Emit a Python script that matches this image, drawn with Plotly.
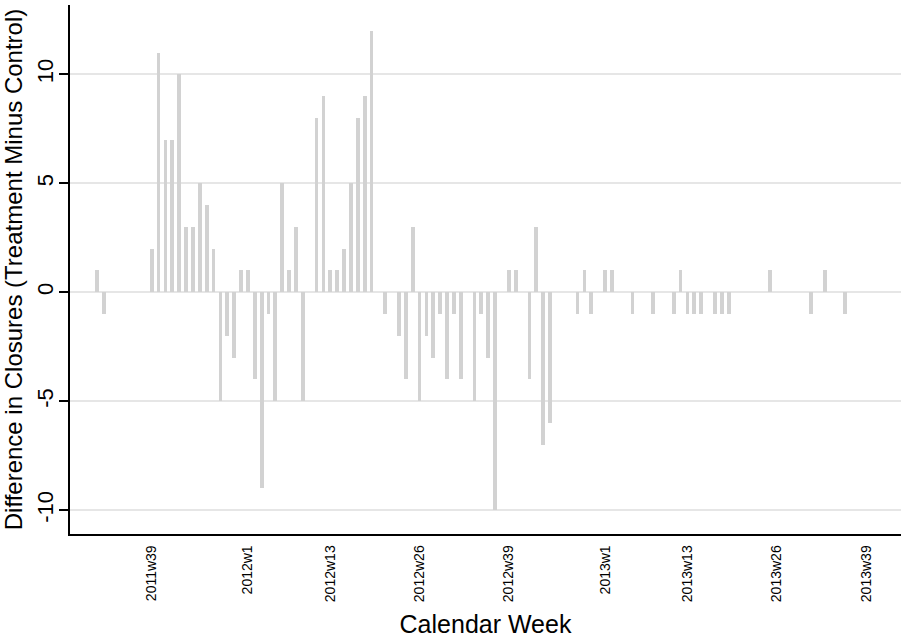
import plotly.graph_objects as go

# Calendar weeks (Stata-style weekly dates, 52 weeks per year) and values
weeks = [
    "2011w31", "2011w32",
    "2011w39", "2011w40", "2011w41", "2011w42", "2011w43", "2011w44", "2011w45",
    "2011w46", "2011w47", "2011w48", "2011w49", "2011w50", "2011w51", "2011w52",
    "2012w1", "2012w2", "2012w3", "2012w4", "2012w5", "2012w6", "2012w7", "2012w8",
    "2012w9", "2012w11", "2012w12", "2012w13", "2012w14", "2012w15", "2012w16",
    "2012w17", "2012w18", "2012w19", "2012w21", "2012w23", "2012w24", "2012w25",
    "2012w26", "2012w27", "2012w28", "2012w29", "2012w30", "2012w31", "2012w32",
    "2012w34", "2012w35", "2012w36", "2012w37", "2012w39", "2012w40", "2012w42",
    "2012w43", "2012w44", "2012w45", "2012w49", "2012w50", "2012w51",
    "2013w1", "2013w2", "2013w5", "2013w8", "2013w11", "2013w12", "2013w13",
    "2013w14", "2013w15", "2013w17", "2013w18", "2013w19", "2013w25", "2013w31",
    "2013w33", "2013w36",
]
diff_closures = [
    1, -1,
    2, 11, 7, 7, 10, 3, 3,
    5, 4, 2, -5, -2, -3, 1,
    1, -4, -9, -1, -5, 5, 1, 3,
    -5, 8, 9, 1, 1, 2, 5,
    8, 9, 12, -1, -2, -4, 3,
    -5, -2, -3, -1, -4, -1, -4,
    -5, -1, -3, -10, 1, 1, -4,
    3, -7, -6, -1, 1, -1,
    1, 1, -1, -1, -1, 1, -1,
    -1, -1, -1, -1, -1, 1, -1,
    1, -1,
]
tick_weeks = ["2011w39", "2012w1", "2012w13", "2012w26", "2012w39",
              "2013w1", "2013w13", "2013w26", "2013w39"]
y_ticks = [-10, -5, 0, 5, 10]
y_tick_text = ["-10", "-5", "0", "5", "10"]


def week_index(label):
    y, w = label.split("w")
    return int(y) * 52 + int(w) - 1


x_vals = [week_index(w) for w in weeks]
tick_vals = [week_index(w) for w in tick_weeks]
origin = week_index("2011w39")

FONT = "Liberation Sans, Arial, Helvetica, sans-serif"

fig = go.Figure(
    go.Bar(
        x=x_vals,
        y=diff_closures,
        width=0.55,
        marker=dict(color="#d2d2d2", line=dict(width=0)),
        hovertext=weeks,
    )
)

fig.update_layout(
    width=906,
    height=643,
    paper_bgcolor="white",
    plot_bgcolor="white",
    margin=dict(l=70, r=5, t=5, b=109),
    showlegend=False,
    font=dict(family=FONT, color="black"),
    bargap=0,
)

fig.update_xaxes(
    range=[origin - 11.9, origin + 109.1],
    tickmode="array",
    tickvals=tick_vals,
    ticktext=tick_weeks,
    tickangle=-90,
    tickfont=dict(size=14, family=FONT, color="black"),
    ticklabelstandoff=4,
    ticks="",
    showgrid=False,
    zeroline=False,
    showline=True,
    linecolor="black",
    linewidth=1.5,
    title=dict(text="Calendar Week", font=dict(size=25, family=FONT, color="black"), standoff=14),
    automargin=False,
)

fig.update_yaxes(
    range=[-11.09, 13.18],
    tickmode="array",
    tickvals=y_ticks,
    ticktext=y_tick_text,
    tickangle=-90,
    tickfont=dict(size=22, family=FONT, color="black"),
    ticklabelstandoff=-3,
    ticks="outside",
    ticklen=9,
    tickwidth=1.5,
    tickcolor="black",
    showgrid=True,
    gridcolor="#e6e6e6",
    gridwidth=1.5,
    zeroline=False,
    showline=True,
    linecolor="black",
    linewidth=1.5,
    title=dict(text="Difference in Closures (Treatment Minus Control)",
               font=dict(size=24, family=FONT, color="black"), standoff=4),
    automargin=False,
)

fig.write_html("out.html")
